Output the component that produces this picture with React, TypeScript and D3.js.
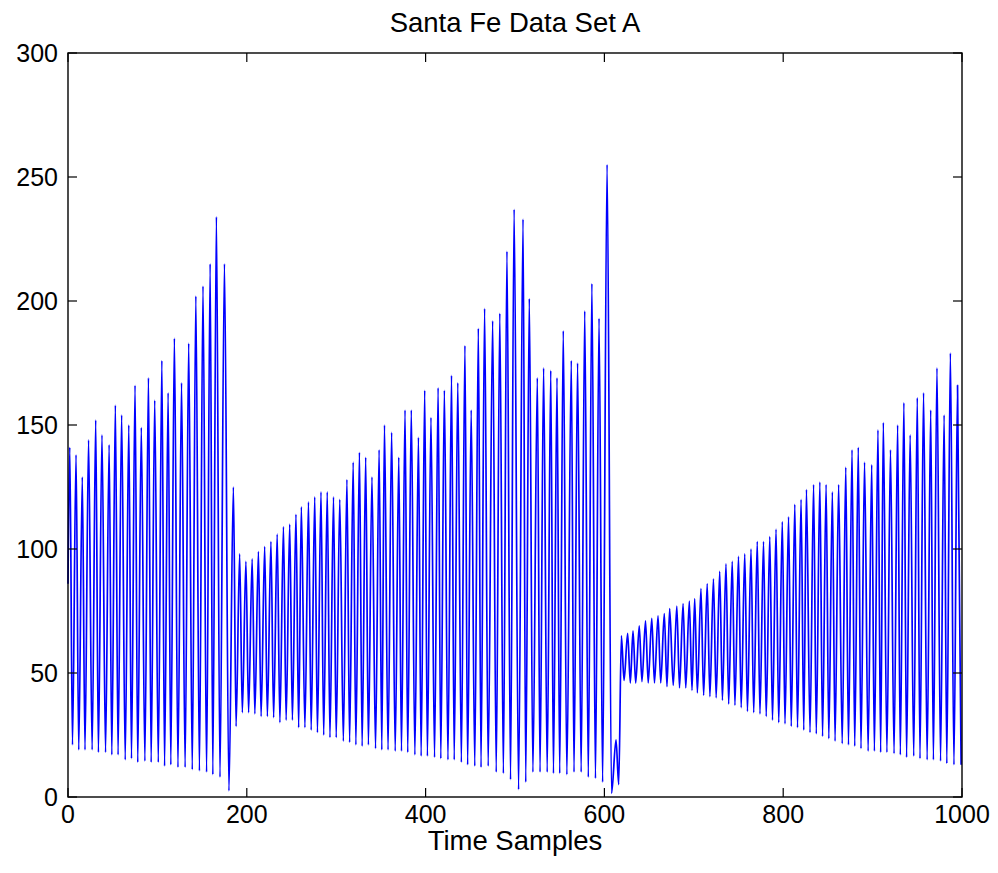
import React from "react";
import * as d3 from "d3";

// Santa Fe laser series: sample index and intensity of each pulse maximum
const peakSample = [
  2, 9, 16, 23, 31, 38, 46, 53, 60, 68, 75, 82, 90, 97, 105, 112, 119, 127, 135, 143, 151, 159, 166, 175,
  185, 192, 199, 206, 213, 220, 227, 234, 241, 248, 255, 261, 269, 276, 283, 290, 297, 304, 312, 319, 326, 333,
  340, 348, 354, 362, 370, 377, 384, 392, 399, 406, 414, 421, 429, 436, 444, 451, 459, 466, 475, 483, 491, 499,
  509, 516, 525, 532, 540, 547, 554, 563, 570, 578, 586, 594, 603, 613,
  619, 626, 632, 639, 646, 653, 660, 667, 673, 681, 688, 695, 701, 708, 715, 722, 729, 736, 743, 750, 757, 764,
  771, 778, 785, 792, 799, 806, 813, 820, 826, 834, 841, 848, 855, 862, 870, 877, 884, 891, 899, 906, 912, 920,
  928, 935, 942, 950, 957, 965, 972, 980, 987, 995,
];
const peakValue = [
  141, 138, 129, 144, 152, 146, 142, 158, 154, 150, 166, 149, 169, 160, 176, 163, 185, 167, 183, 202, 206, 215, 234, 215,
  125, 98, 95, 96, 99, 101, 103, 106, 109, 110, 114, 117, 119, 121, 123, 123, 121, 120, 128, 135, 139, 137,
  129, 140, 150, 147, 137, 156, 156, 145, 164, 153, 165, 164, 170, 167, 182, 156, 189, 197, 192, 195, 220, 237,
  233, 201, 169, 173, 172, 169, 188, 176, 175, 196, 207, 193, 255, 23,
  65, 66, 67, 69, 71, 72, 73, 74, 76, 77, 78, 79, 80, 84, 86, 88, 91, 94, 95, 97, 98, 100,
  103, 103, 105, 108, 111, 113, 118, 120, 124, 126, 127, 126, 123, 126, 133, 140, 141, 135, 134, 148, 151, 140,
  150, 159, 146, 161, 163, 156, 173, 154, 179, 166,
];

// Minima between consecutive pulses
const troughSample = [
  5, 12, 19, 27, 34, 42, 49, 56, 64, 71, 78, 86, 93, 101, 108, 115, 123, 131, 139, 147, 155, 162, 170, 180,
  188, 195, 202, 209, 216, 223, 230, 237, 244, 251, 258, 265, 272, 279, 286, 293, 300, 308, 315, 322,
  329, 336, 344, 351, 358, 366, 373, 380, 388, 395, 402, 410, 417, 425, 432, 440, 447, 455, 462, 470,
  479, 487, 495, 504, 512, 520, 528, 536, 543, 550, 558, 566, 574, 582, 590, 598, 608, 616,
  622, 629, 635, 642, 649, 656, 663, 670, 677, 684, 691, 698, 704, 711, 718, 725, 732, 739, 746, 753,
  760, 767, 774, 781, 788, 795, 802, 809, 816, 823, 830, 837, 844, 851, 858, 866, 873, 880, 887, 895,
  902, 909, 916, 924, 931, 938, 946, 953, 961, 968, 976, 983, 991,
];
const troughValue = [
  21, 19, 19, 19, 18, 18, 17, 17, 15, 15.5, 14, 14.5, 14, 14, 12.5, 13, 12, 12, 11, 10.5, 10, 9, 8, 2.5,
  28.5, 34, 34, 33.5, 32.5, 32.5, 32, 30, 31, 31, 28, 28, 27, 26, 25, 24, 24, 22.5, 22, 21,
  20.5, 21, 19.5, 19, 19, 18.5, 18.5, 18, 17, 16.5, 16.5, 16, 15.5, 15, 15, 14, 13, 12.5, 12, 12.5,
  10, 9.5, 7, 3, 6, 10, 10, 10, 9.5, 9.5, 9, 10, 10, 8, 7.5, 6, 1.5, 5,
  47, 46, 46, 46.5, 46, 46, 46, 44.5, 45, 44, 44, 43, 42, 41, 40.5, 40, 39, 37.5, 37, 36,
  34.5, 34, 33.5, 32.5, 31, 30, 29.5, 28.5, 28, 27, 26, 25.5, 24.5, 23.5, 22.5, 21.5, 21, 20.5, 19.5, 18.5,
  18.5, 18, 18, 17.5, 17, 16, 16.5, 15.5, 15, 15, 14.5, 13.5, 13,
];

// first and last recorded samples
const firstSample: [number, number] = [0, 86];
const lastSample: [number, number] = [999, 13];

const xTicks = [0, 200, 400, 600, 800, 1000];
const yTicks = [0, 50, 100, 150, 200, 250, 300];

const W = 998;
const H = 873;
const M = { left: 68, right: 36, top: 53, bottom: 76 };

export default function App() {
  const x = d3.scaleLinear().domain([0, 1000]).range([M.left, W - M.right]);
  const y = d3.scaleLinear().domain([0, 300]).range([H - M.bottom, M.top]);

  const pts: [number, number][] = [firstSample];
  peakSample.forEach((s, i) => {
    pts.push([s, peakValue[i]]);
    if (i < troughSample.length) pts.push([troughSample[i], troughValue[i]]);
  });
  pts.push(lastSample);

  const line = d3
    .line<[number, number]>()
    .x((d) => x(d[0]))
    .y((d) => y(d[1]))
    .curve(d3.curveMonotoneX);

  const x0 = x(0);
  const x1 = x(1000);
  const y0 = y(0);
  const y1 = y(300);
  const tl = 9;
  const font = "'Liberation Sans', Arial, Helvetica, sans-serif";

  return (
    <svg
      width={W}
      height={H}
      style={{ position: "absolute", left: 0, top: 0, background: "#fff" }}
      fontFamily={font}
    >
      <rect x={0} y={0} width={W} height={H} fill="#fff" />
      <path d={line(pts) || ""} fill="none" stroke="#0000ff" strokeWidth={1.7} strokeLinejoin="round" />
      <rect x={x0} y={y1} width={x1 - x0} height={y0 - y1} fill="none" stroke="#000" strokeWidth={1.4} />
      {xTicks.map((t) => (
        <g key={"x" + t}>
          <line x1={x(t)} x2={x(t)} y1={y0} y2={y0 - tl} stroke="#000" strokeWidth={1.2} />
          <line x1={x(t)} x2={x(t)} y1={y1} y2={y1 + tl} stroke="#000" strokeWidth={1.2} />
          <text x={x(t)} y={y0 + 26} textAnchor="middle" fontSize={25} fill="#000">
            {t}
          </text>
        </g>
      ))}
      {yTicks.map((t) => (
        <g key={"y" + t}>
          <line x1={x0} x2={x0 + tl} y1={y(t)} y2={y(t)} stroke="#000" strokeWidth={1.2} />
          <line x1={x1} x2={x1 - tl} y1={y(t)} y2={y(t)} stroke="#000" strokeWidth={1.2} />
          <text x={x0 - 10} y={y(t) + 9} textAnchor="end" fontSize={25} fill="#000">
            {t}
          </text>
        </g>
      ))}
      <text x={(x0 + x1) / 2} y={32} textAnchor="middle" fontSize={27.5} fill="#000">
        Santa Fe Data Set A
      </text>
      <text x={(x0 + x1) / 2} y={y0 + 53} textAnchor="middle" fontSize={27.5} fill="#000">
        Time Samples
      </text>
    </svg>
  );
}
